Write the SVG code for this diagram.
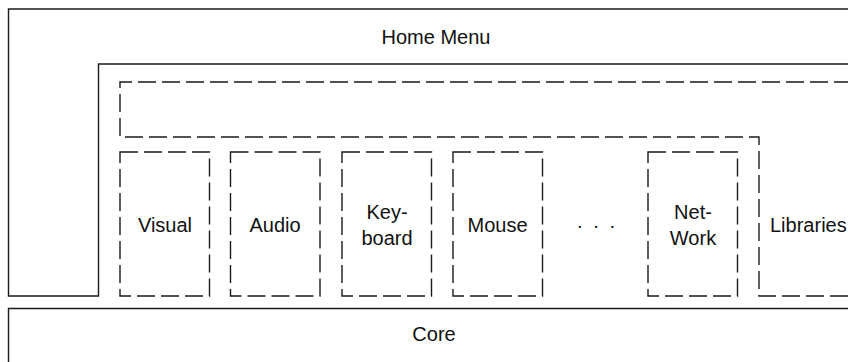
<svg xmlns="http://www.w3.org/2000/svg" width="848" height="362" viewBox="0 0 848 362">
  <style>
    .solid { fill: none; stroke: #1a1a1a; stroke-width: 1.4; }
    .dash { fill: none; stroke: #1a1a1a; stroke-width: 1.4; stroke-dasharray: 18 6; }
    .lbl { font-family: "Liberation Sans", Arial, sans-serif; font-size: 20px; fill: #111; text-anchor: middle; }
  </style>
  <rect width="848" height="362" fill="#fff"/>

  <!-- Home menu frame -->
  <g id="home-menu">
    <path class="solid" d="M 852 9 H 8.5 V 296 H 98.5 V 64 H 852"/>
    <text class="lbl" x="436" y="44">Home Menu</text>
  </g>

  <!-- Core layer -->
  <g id="core">
    <path class="solid" d="M 852 308.5 H 8.5 V 364"/>
    <text class="lbl" x="434" y="341">Core</text>
  </g>

  <!-- Shared area above the modules, wrapping round to the libraries -->
  <g id="libraries">
    <path class="dash" d="M 852 82 H 120 V 137 H 759 V 296 H 852"/>
    <text class="lbl" x="770" y="232" style="text-anchor:start">Libraries</text>
  </g>

  <!-- Modules -->
  <g id="visual">
    <rect class="dash" x="120" y="152" width="89.5" height="144"/>
    <text class="lbl" x="165" y="232">Visual</text>
  </g>
  <g id="audio">
    <rect class="dash" x="230.5" y="152" width="89.5" height="144"/>
    <text class="lbl" x="275" y="232">Audio</text>
  </g>
  <g id="keyboard">
    <rect class="dash" x="342" y="152" width="89.5" height="144"/>
    <text class="lbl" x="387" y="219">Key-</text>
    <text class="lbl" x="387" y="245">board</text>
  </g>
  <g id="mouse">
    <rect class="dash" x="453" y="152" width="89.5" height="144"/>
    <text class="lbl" x="497.5" y="232">Mouse</text>
  </g>
  <g id="more">
    <text class="lbl" x="597" y="232" style="letter-spacing:2px">· · ·</text>
  </g>
  <g id="network">
    <rect class="dash" x="648" y="152" width="89.5" height="144"/>
    <text class="lbl" x="693" y="219">Net-</text>
    <text class="lbl" x="693" y="245">Work</text>
  </g>

  <!-- no connectors between the layers -->
  <g id="connectors"/>
</svg>
